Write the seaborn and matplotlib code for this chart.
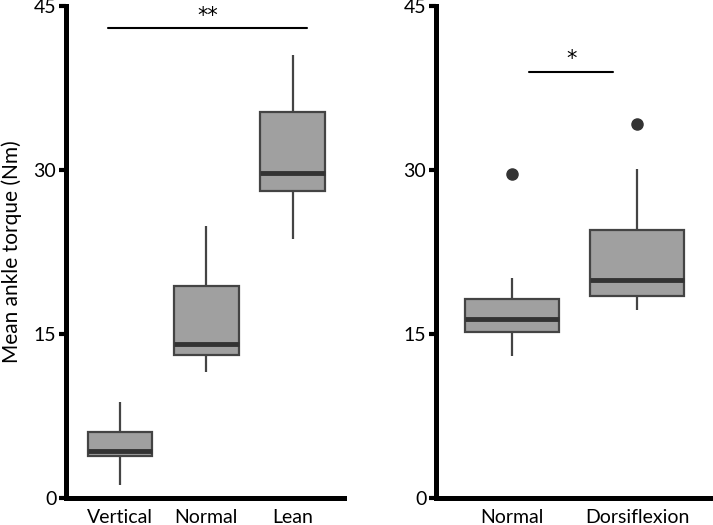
import matplotlib
matplotlib.use("Agg")
import matplotlib.pyplot as plt
import seaborn as sns
import pandas as pd

# left panel: posture
left_cats = ["Vertical", "Normal", "Lean"]
vertical = [1.2, 3.8, 4.3, 6.0, 8.8]
normal_l = [11.5, 13.1, 14.1, 19.4, 24.9]
lean = [23.7, 28.1, 29.7, 35.3, 40.5]

# right panel: foot position
right_cats = ["Normal", "Dorsiflexion"]
normal_r = [13.0, 14.4, 15.2, 15.8, 16.4, 17.2, 18.2, 20.1, 29.6]
dorsi = [17.2, 17.9, 18.5, 19.2, 19.9, 22.1, 24.5, 30.1, 34.2]

yticks = [0, 15, 30, 45]
ylabel = "Mean ankle torque (Nm)"

# significance bars: (x0, x1, y, label)
sig_left = (-0.14, 2.17, 43.0, "**")
sig_right = (0.14, 0.81, 39.0, "*")

sns.set_style("ticks")
plt.rcParams["font.family"] = ["Lato", "DejaVu Sans"]
plt.rcParams["text.color"] = "black"
plt.rcParams["axes.labelcolor"] = "black"
plt.rcParams["xtick.color"] = "black"
plt.rcParams["ytick.color"] = "black"

df_l = pd.DataFrame({
    "group": ["Vertical"] * len(vertical) + ["Normal"] * len(normal_l) + ["Lean"] * len(lean),
    "torque": vertical + normal_l + lean,
})
df_r = pd.DataFrame({
    "group": ["Normal"] * len(normal_r) + ["Dorsiflexion"] * len(dorsi),
    "torque": normal_r + dorsi,
})

fig = plt.figure(figsize=(7.13, 5.25), dpi=100)
ax1 = fig.add_axes([66 / 713, 27 / 525, 278 / 713, 492 / 525])
ax2 = fig.add_axes([436 / 713, 27 / 525, 277 / 713, 492 / 525])

box_kw = dict(
    color="#a0a0a0", width=0.75, showcaps=False, whis=1.5,
    boxprops=dict(edgecolor="#444444", linewidth=1.6),
    whiskerprops=dict(color="#444444", linewidth=1.6),
    medianprops=dict(color="#333333", linewidth=3.5),
    flierprops=dict(marker="o", markerfacecolor="#333333", markeredgecolor="#333333", markersize=8),
)

sns.boxplot(data=df_l, x="group", y="torque", order=left_cats, ax=ax1, **box_kw)
sns.boxplot(data=df_r, x="group", y="torque", order=right_cats, ax=ax2, **box_kw)

for ax, sig, xl in [(ax1, sig_left, (-0.626, 2.596)), (ax2, sig_right, (-0.604, 1.603))]:
    ax.set_ylim(0, 45)
    ax.set_xlim(*xl)
    ax.set_yticks(yticks)
    ax.set_xlabel("")
    ax.set_ylabel("")
    for s in ["top", "right"]:
        ax.spines[s].set_visible(False)
    for s in ["left", "bottom"]:
        ax.spines[s].set_linewidth(3.6)
        ax.spines[s].set_color("black")
    ax.tick_params(axis="y", length=5, width=3, pad=2, labelsize=14)
    ax.tick_params(axis="x", length=0, pad=8, labelsize=14)
    x0, x1, y, lab = sig
    ax.plot([x0, x1], [y, y], color="black", linewidth=1.5)
    ax.text((x0 + x1) / 2, y + 0.2, lab, ha="center", va="bottom",
            fontsize=15, family="DejaVu Sans")

ax1.set_ylabel(ylabel, fontsize=15, labelpad=8)

fig.savefig("out.png", dpi=100)
